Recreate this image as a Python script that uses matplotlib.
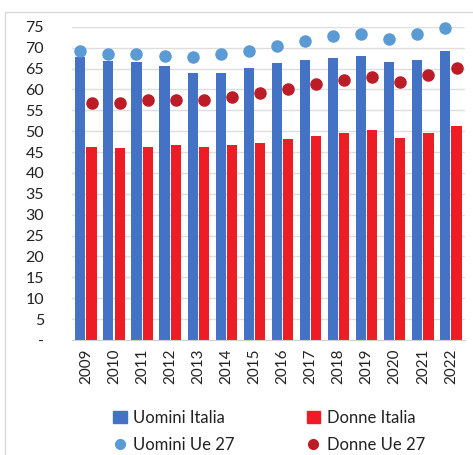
import numpy as np
import matplotlib.pyplot as plt
from matplotlib.patches import Rectangle
from matplotlib.lines import Line2D

plt.rcParams['font.family'] = ['Lato', 'DejaVu Sans']

years = ['2009', '2010', '2011', '2012', '2013', '2014', '2015',
         '2016', '2017', '2018', '2019', '2020', '2021', '2022']
uomini_italia = [67.7, 66.8, 66.5, 65.6, 63.9, 63.9, 65.1,
                 66.3, 67.0, 67.5, 67.9, 66.5, 67.0, 69.1]
donne_italia = [46.2, 45.9, 46.2, 46.6, 46.2, 46.6, 47.1,
                48.1, 48.8, 49.5, 50.2, 48.3, 49.5, 51.2]
uomini_ue = [69.1, 68.6, 68.6, 67.9, 67.7, 68.4, 69.3,
             70.3, 71.7, 72.7, 73.4, 72.2, 73.4, 74.8]
donne_ue = [56.8, 56.8, 57.4, 57.4, 57.4, 58.2, 59.1,
            60.0, 61.2, 62.2, 62.9, 61.9, 63.4, 65.1]

c_ui = '#4472C4'
c_di = '#EE1C25'
c_uu = '#5B9BD5'
c_du = '#BC1C26'

fig = plt.figure(figsize=(4.73, 4.55), dpi=100)
ax = fig.add_axes([0.152, 0.253, 0.831, 0.688])

x = np.arange(len(years))
off = 0.2
w = 0.36
ax.bar(x - off, uomini_italia, w, color=c_ui, zorder=2)
ax.bar(x + off, donne_italia, w, color=c_di, zorder=2)
ax.scatter(x - off, uomini_ue, s=64, color=c_uu, zorder=3, clip_on=False)
ax.scatter(x + off, donne_ue, s=64, color=c_du, zorder=3, clip_on=False)

ax.set_xlim(-0.5, len(years) - 0.5)
ax.set_ylim(0, 75)
yt = list(range(0, 80, 5))
ax.set_yticks(yt)
ax.set_yticklabels(['-'] + [str(v) for v in yt[1:]], fontsize=11.5, color='#222222')
ax.set_xticks(x)
ax.set_xticklabels(years, rotation=90, fontsize=11, color='#222222')
ax.tick_params(length=0, pad=6)
ax.tick_params(axis='y', pad=20)
ax.grid(axis='y', color='#dedede', linewidth=1, zorder=0)
for s in ['top', 'right', 'left']:
    ax.spines[s].set_visible(False)
ax.spines['bottom'].set_color('#d0d0d0')

# outer chart border (cropped)
fig.patches.append(Rectangle((5 / 473, -0.1), 1.1, 1 - 12 / 455 + 0.1,
                             transform=fig.transFigure, fill=False,
                             edgecolor='#d9d9d9', linewidth=1))

handles = [Rectangle((0, 0), 1, 1, color=c_ui),
           Line2D([], [], marker='o', ls='', color=c_uu, markersize=7),
           Rectangle((0, 0), 1, 1, color=c_di),
           Line2D([], [], marker='o', ls='', color=c_du, markersize=7)]
labels = ['Uomini Italia', 'Uomini Ue 27', 'Donne Italia', 'Donne Ue 27']
fig.legend(handles, labels, ncol=2, loc='center left',
           bbox_to_anchor=(0.215, 0.052), frameon=False, fontsize=12,
           handlelength=0.8, handletextpad=0.4, columnspacing=4.3,
           labelspacing=0.65, labelcolor='#222222', borderpad=0.2)

fig.savefig('out.png', dpi=100)
